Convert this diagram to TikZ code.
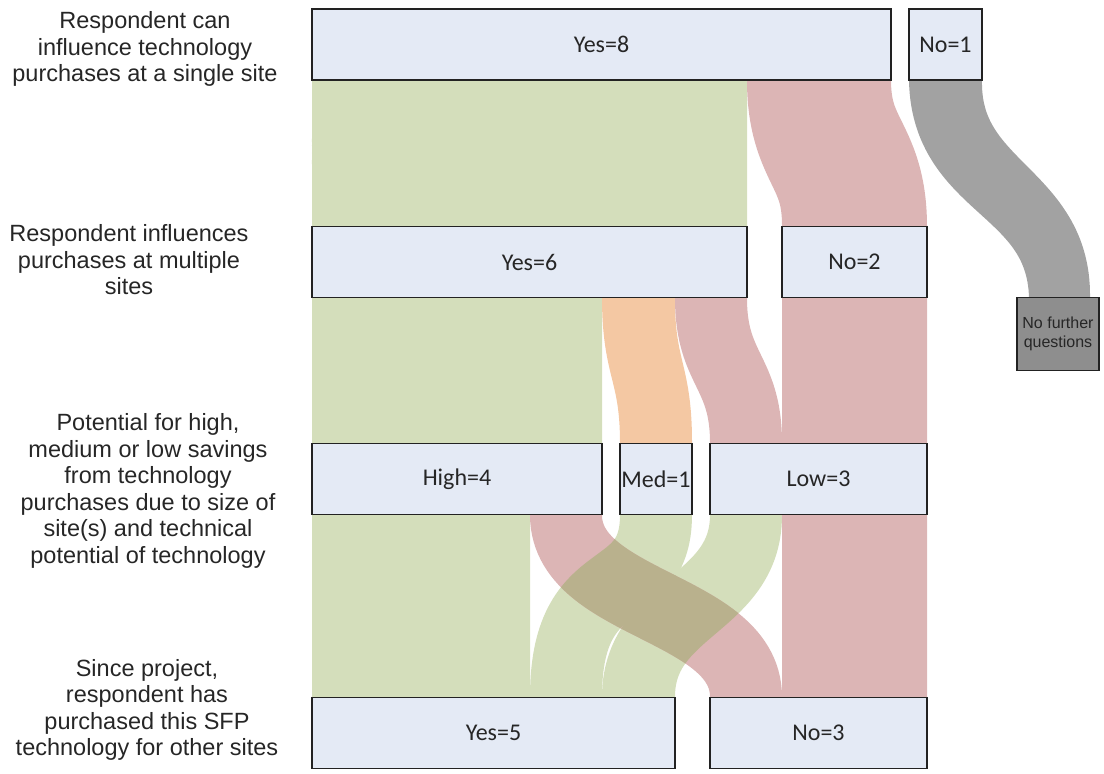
\documentclass[tikz,border=0pt]{standalone}
\usepackage{fontspec}
\setmainfont{Liberation Sans}
\newfontfamily\boxfamily{Carlito}

\definecolor{boxfill}{HTML}{E4EAF5}
\definecolor{boxline}{HTML}{222222}
\definecolor{flowgreen}{HTML}{D4DEBB}
\definecolor{flowred}{HTML}{DCB5B5}
\definecolor{floworange}{HTML}{F4C8A3}
\definecolor{flowgray}{HTML}{A2A2A2}
\definecolor{endgray}{HTML}{8E8E8E}
\definecolor{flowolive}{HTML}{B9B18D}
\definecolor{txt}{HTML}{262626}

% A ribbon is a band of (nearly) constant thickness following the cubic
% centre line (xa,ya) .. controls (xa,ya+fa*dy) and (xb,yb-fb*dy) .. (xb,yb).
% #1 = path command, #2/#3 = left/right x at top, #4 = top y,
% #5/#6 = left/right x at bottom, #7 = bottom y
\def\rfa{0.5}\def\rfb{0.5}
\def\rbX{(\rxa+\rdx*(3*\rt*\rt-2*\rt*\rt*\rt))}
\def\rbY{(\rya+\rdy*(3*\rfa*(1-\rt)*(1-\rt)*\rt+3*(1-\rfb)*(1-\rt)*\rt*\rt+\rt*\rt*\rt))}
\def\rbA{(\rdx*0.06*\rt*(1-\rt))}
\def\rbB{(\rdy*0.01*(3*\rfa*(1-\rt)*(1-\rt)+6*(1-\rfa-\rfb)*(1-\rt)*\rt+3*\rfb*\rt*\rt))}
\def\rbL{sqrt(\rbA*\rbA+\rbB*\rbB)}
\def\rbH{(\rha+(\rhb-\rha)*\rt)}
\newcommand\ribbon[7]{%
  \pgfmathsetmacro\rxa{(#2+#3)/2}%
  \pgfmathsetmacro\rxb{(#5+#6)/2}%
  \pgfmathsetmacro\rha{(#3-#2)/2}%
  \pgfmathsetmacro\rhb{(#6-#5)/2}%
  \pgfmathsetmacro\rdx{\rxb-\rxa}%
  \pgfmathsetmacro\rya{#4}%
  \pgfmathsetmacro\rdy{#7-#4}%
  #1 plot[variable=\rt, domain=0:1, samples=61]
        ({\rbX-\rbH*\rbB/\rbL},{\rbY+\rbH*\rbA/\rbL})
     -- plot[variable=\rt, domain=1:0, samples=61]
        ({\rbX+\rbH*\rbB/\rbL},{\rbY-\rbH*\rbA/\rbL})
     -- cycle;}
% the Med->Yes band makes its turn higher up
\newcommand\medband[1]{\def\rfa{0.5}\def\rfb{0.75}%
  \ribbon{#1}{620}{692}{515}{530}{602}{697}%
  \def\rfa{0.5}\def\rfb{0.5}}

\tikzset{
  box/.style={draw=boxline, line width=1.8pt, fill=boxfill, inner sep=0pt,
    minimum height=71pt, font=\boxfamily\fontsize{24}{28}\selectfont, text=txt},
  endbox/.style={draw=boxline, line width=1.6pt, fill=endgray, inner sep=0pt,
    minimum width=82pt, minimum height=73pt, align=center,
    font=\fontsize{16}{19}\selectfont, text=txt},
  question/.style={align=center, text=txt, inner sep=0pt,
    font=\fontsize{23.5}{26.5}\selectfont}
}

\begin{document}
\begin{tikzpicture}[x=1pt,y=-1pt]
\useasboundingbox (0,0) rectangle (1104,774);

% ---- flows: single site -> multiple sites
\ribbon{\fill[flowgreen]}{312}{747}{80}{312}{747}{226}
\ribbon{\fill[flowred]}{747}{891}{80}{782}{927}{226}
\ribbon{\fill[flowgray]}{909}{982}{80}{1029}{1090}{298}

% ---- flows: multiple sites -> savings potential
\ribbon{\fill[flowgreen]}{312}{602}{298}{312}{602}{443}
\ribbon{\fill[floworange]}{602}{675}{298}{620}{692}{443}
\ribbon{\fill[flowred]}{675}{747}{298}{710}{782}{443}
\ribbon{\fill[flowred]}{782}{927}{298}{782}{927}{443}

% ---- flows: savings potential -> purchased since project
\ribbon{\fill[flowgreen]}{312}{530}{515}{312}{530}{697}
\medband{\fill[flowgreen]}
\ribbon{\fill[flowgreen]}{710}{782}{515}{602}{675}{697}
\ribbon{\fill[flowred]}{530}{602}{515}{710}{782}{697}
\ribbon{\fill[flowred]}{782}{927}{515}{782}{927}{697}
% where the High->No band crosses the green bands
\begin{scope}
  \ribbon{\clip}{530}{602}{515}{710}{782}{697}
  \medband{\fill[flowolive]}
  \ribbon{\fill[flowolive]}{710}{782}{515}{602}{675}{697}
\end{scope}

% ---- boxes
\node[box, minimum width=579pt] (y8) at (601.5,44.5) {Yes=8};
\node[box, minimum width=73pt]  (n1) at (945.5,44.5) {No=1};
\node[box, minimum width=435pt] (y6) at (529.5,262) {Yes=6};
\node[box, minimum width=145pt] (n2) at (854.5,262) {No=2};
\node[endbox] (nf) at (1058,334) {No further\\questions};
\node[box, minimum width=290pt] (hi) at (457,479) {High=4};
\node[box, minimum width=72pt]  (md) at (656,479) {Med=1};
\node[box, minimum width=217pt] (lo) at (818.5,479) {Low=3};
\node[box, minimum width=363pt] (y5) at (493.5,733) {Yes=5};
\node[box, minimum width=217pt] (n3) at (818.5,733) {No=3};

% ---- row questions
\node[question] (q1) at (145,49) {Respondent can\\influence technology\\purchases at a single site};
\node[question] (q2) at (129,260) {Respondent influences\\purchases at multiple\\sites};
\node[question] (q3) at (148,491) {Potential for high,\\medium or low savings\\from technology\\purchases due to size of\\site(s) and technical\\potential of technology};
\node[question] (q4) at (147,710) {Since project,\\respondent has\\purchased this SFP\\technology for other sites};
\end{tikzpicture}
\end{document}
